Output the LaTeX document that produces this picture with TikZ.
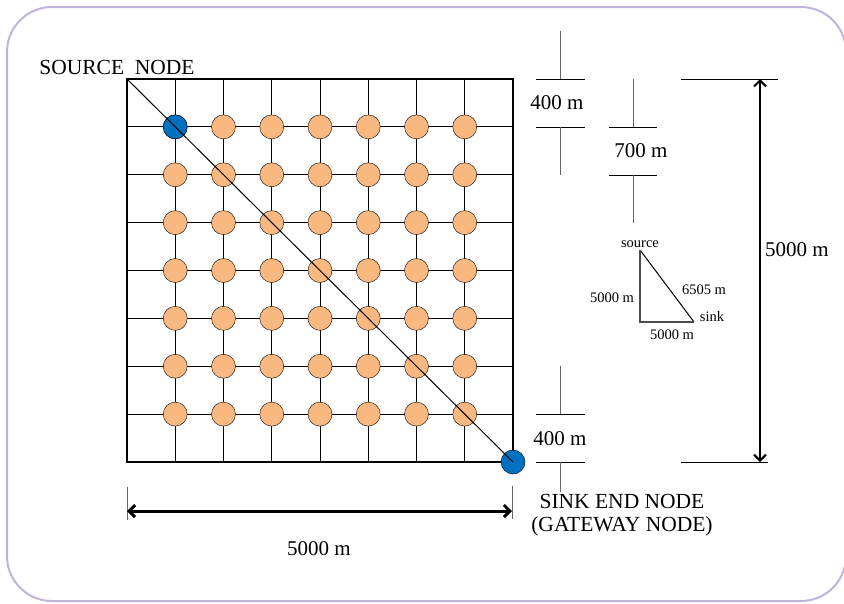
\documentclass[tikz,border=0pt]{standalone}
\usepackage{fontspec}
\setmainfont{Liberation Serif}
\usepackage{xcolor}
\usetikzlibrary{arrows.meta,positioning}
\definecolor{nodeorange}{HTML}{F9B880}
\definecolor{nodeblue}{HTML}{0070C0}
\definecolor{framec}{HTML}{C2B3DA}

\begin{document}
\begin{tikzpicture}[x=1pt,y=-1pt,
		sensor/.style={circle, draw, fill=nodeorange, minimum size=24pt, inner sep=0pt},
		endnode/.style={circle, draw, fill=nodeblue, minimum size=24pt, inner sep=0pt},
		vtick/.style={draw=black!60, line width=1pt},
		htick/.style={draw=black, line width=1pt},
		bigtxt/.style={font=\fontsize{21.5}{23}\selectfont, inner sep=0pt},
		dimtxt/.style={font=\fontsize{21}{22}\selectfont, inner sep=0pt},
		smalltxt/.style={font=\fontsize{14.5}{16}\selectfont, inner sep=0pt}]
			\useasboundingbox (0,0) rectangle (844,603);
			\draw[framec, line width=2pt, rounded corners=45pt] (7,7) rectangle (846,601);
			
			% field
			\coordinate (tl) at (127,79);
			\coordinate (br) at (513,462);
			\foreach \i in {1,...,7} {
				\draw[line width=1pt] (127+\i*48.25,79) -- (127+\i*48.25,462);
				\draw[line width=1pt] (127,79+\i*47.875) -- (513,79+\i*47.875);
			}
			\draw[line width=2pt] (tl) rectangle (br);
			\foreach \i in {1,...,7} {
				\foreach \j in {1,...,7} {
					\node[sensor] (n\i\j) at (127+\i*48.25,79+\j*47.875) {};
				}
			}
			\node[endnode] (src) at (n11) {};
			\node[endnode] (sink) at (br) {};
			\draw[line width=1pt] (tl) -- (sink.center);
			
			\node[bigtxt] (srctxt) at (117,67) {SOURCE\ \ NODE};
			\node[bigtxt, align=center] (sinktxt) at (622,515) {SINK END NODE\\(GATEWAY NODE)};
			
			% width
			\draw[vtick] (127,487) -- (127,520);
			\draw[vtick] (512,486) -- (512,519);
			\coordinate (wl) at (127,511);
			\coordinate (wr) at (512,511);
			\draw[{Straight Barb[length=6pt,width=12pt]}-{Straight Barb[length=6pt,width=12pt]}, line width=3pt] (wl) -- (wr);
			\node[dimtxt] (wtxt) at (319,549) {5000 m};
			
			% height
			\draw[htick] (681,79) -- (778,79);
			\draw[htick] (681,462) -- (768,462);
			\coordinate (ht) at (760,79);
			\coordinate (hb) at (760,462);
			\draw[{Straight Barb[length=6pt,width=12pt]}-{Straight Barb[length=6pt,width=12pt]}, line width=2pt] (ht) -- (hb);
			\node[dimtxt] (htxt) at (797,250) {5000 m};
			
			% spacing marks
			\draw[vtick] (560,31) -- (560,79);
			\draw[htick] (536,79) -- (585,79);
			\node[dimtxt] (d1) at (557,103) {400 m};
			\draw[htick] (536,127) -- (585,127);
			\draw[vtick] (560,127) -- (560,175);
			
			\draw[vtick] (633,79) -- (633,127);
			\draw[htick] (609,127) -- (657,127);
			\node[dimtxt] (d2) at (641,151) {700 m};
			\draw[htick] (609,175) -- (657,175);
			\draw[vtick] (633,175) -- (633,223);
			
			\draw[vtick] (560,366) -- (560,414);
			\draw[htick] (536,414) -- (585,414);
			\node[dimtxt] (d3) at (560,439) {400 m};
			\draw[htick] (536,462) -- (585,462);
			\draw[vtick] (560,462) -- (560,492);
			
			% distance triangle
			\coordinate (ta) at (640,250);
			\coordinate (tb) at (640,322);
			\coordinate (tc) at (694,322);
			\draw[line width=1pt] (ta) -- (tc);
			\draw[black!70, line width=1.2pt] (ta) -- (tb) -- (tc);
			\node[smalltxt] (tsrc) at (640,244) {source};
			\node[smalltxt] (tsink) at (712,317) {sink};
			\node[smalltxt] (thyp) at (704,290) {6505 m};
			\node[smalltxt] (tleft) at (612,298) {5000 m};
			\node[smalltxt] (tbot) at (672,335) {5000 m};
		\end{tikzpicture}
\end{document}
